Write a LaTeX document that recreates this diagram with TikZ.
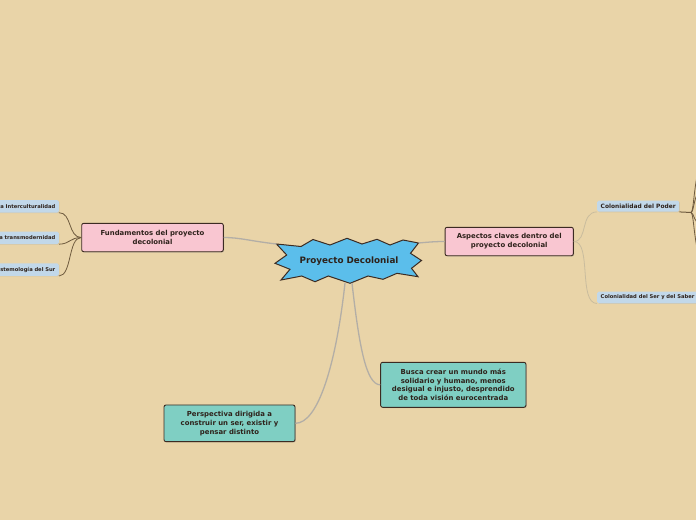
\documentclass[tikz,border=0pt]{standalone}
\usepackage{fontspec}
\setmainfont{DejaVu Sans}
\usetikzlibrary{shadows}
\definecolor{bg}{HTML}{E9D4A8}
\definecolor{pinkf}{HTML}{F9C6D1}
\definecolor{tealf}{HTML}{7FCFC3}
\definecolor{starf}{HTML}{5BBEEB}
\definecolor{lblf}{HTML}{C2D8E9}
\definecolor{edgec}{HTML}{3C2B22}
\definecolor{txt}{HTML}{2E221B}
\definecolor{mainline}{HTML}{B3AEA6}
\definecolor{subline}{HTML}{C9BC9E}
\definecolor{brownline}{HTML}{6F5B3F}
\tikzset{
  topic/.style={draw=edgec, line width=0.9pt, rounded corners=2pt, text=txt,
    font=\bfseries\fontsize{6.9}{8.9}\selectfont, align=center, inner sep=0pt,
    drop shadow={shadow xshift=0.8pt, shadow yshift=-0.8pt, opacity=0.35}},
  lbl/.style={fill=lblf, rounded corners=1.5pt, text=txt, inner ysep=0pt, inner xsep=3.5pt,
    font=\bfseries\fontsize{5.2}{6}\selectfont,
    drop shadow={shadow xshift=0.6pt, shadow yshift=-0.6pt, opacity=0.2}},
  leftlbl/.style={lbl, anchor=east, minimum height=12.4pt, text width=62pt, align=right},
  mainconn/.style={draw=mainline, line width=1.3pt},
  subconn/.style={draw=subline, line width=0.8pt},
  brownconn/.style={draw=brownline, line width=0.8pt},
}
\begin{document}
\begin{tikzpicture}[x=1pt, y=-1pt]
\useasboundingbox (0,0) rectangle (696,520);
\fill[bg] (0,0) rectangle (696,520);
\clip (0,0) rectangle (696,520);

% starburst
\draw[fill=starf, draw=edgec, line width=1pt, line join=miter]
  (276.5,244) -- (301,246.5) -- (313,239.5) -- (330,245) -- (347,238.3) -- (362,244)
  -- (377,239.3) -- (390,245) -- (403,240) -- (418.5,243) -- (410.5,253.3) -- (421.5,260.5)
  -- (411.5,268.3) -- (418,276.7) -- (397,273.3) -- (383,279.3) -- (368,276) -- (350,283.3)
  -- (328.3,276) -- (315,281.7) -- (301.7,276) -- (281,280) -- (290,269.3) -- (275,263.3)
  -- (286.7,255) -- cycle;
\node[text=txt, font=\bfseries\fontsize{8.8}{10}\selectfont] (center) at (349,261) {Proyecto Decolonial};
\coordinate (sL) at (276.5,244);
\coordinate (sR) at (418.5,243);
\coordinate (sB1) at (345,283);
\coordinate (sB2) at (352,283);

% main topics
\node[topic, fill=pinkf, minimum width=141.6pt, minimum height=28.4pt] (fund) at (152.5,237.5)
  {Fundamentos del proyecto\\decolonial};
\node[topic, fill=pinkf, minimum width=128.3pt, minimum height=28.4pt] (asp) at (509.2,241.5)
  {Aspectos claves dentro del\\proyecto decolonial};
\node[topic, fill=tealf, minimum width=145.3pt, minimum height=45pt] (busca) at (453.3,384.8)
  {Busca crear un mundo más\\solidario y humano, menos\\desigual e injusto, desprendido\\de toda visión eurocentrada};
\node[topic, fill=tealf, minimum width=131pt, minimum height=36.7pt] (persp) at (229.5,423.3)
  {Perspectiva dirigida a\\construir un ser, existir y\\pensar distinto};

% left labels (cut by the left edge in the reference)
\node[leftlbl] (l1) at (59,206.3) {a Interculturalidad};
\node[leftlbl] (l2) at (59,237.8) {a transmodernidad};
\node[leftlbl] (l3) at (59,269.6) {stemología del Sur};

% right labels
\node[lbl, anchor=west, minimum height=11pt, font=\bfseries\fontsize{5.9}{7}\selectfont] (poder) at (597,206.2) {Colonialidad del Poder};
\node[lbl, anchor=west, minimum height=11.6pt] (ser) at (597,297.5) {Colonialidad del Ser y del Saber};

% connectors from center
\draw[mainconn] (sL) .. controls (250,241) and (240,237.5) .. (fund.east);
\draw[mainconn] (sR) .. controls (430,242) and (435,241.5) .. (asp.west);
\draw[mainconn] (sB1) .. controls (336,365) and (318,423.3) .. (persp.east);
\draw[mainconn] (sB2) .. controls (359,345) and (366,384.8) .. (busca.west);

% aspectos sub-connectors
\draw[subconn] (asp.east) .. controls (588,241.5) and (580,212) .. (poder.south west);
\draw[subconn] (asp.east) .. controls (592,241.5) and (578,303.3) .. (ser.south west);

% fundamentos sub-connectors
\draw[brownconn] (fund.west) .. controls (68,237.5) and (72,212.5) .. (l1.south east);
\draw[brownconn] (fund.west) .. controls (70,237.5) and (70,244) .. (l2.south east);
\draw[brownconn] (fund.west) .. controls (68,237.5) and (72,275.8) .. (l3.south east);

% poder sub-connectors (leaving the picture)
\coordinate (pj) at (691,212.5);
\coordinate (r1) at (702,160);
\coordinate (r2) at (702,188);
\coordinate (r3) at (702,226);
\coordinate (r4) at (702,262);
\draw[brownconn, line width=1pt] (poder.south east) -- (pj);
\draw[brownconn] (pj) .. controls (694,212.5) and (694,175) .. (r1);
\draw[brownconn] (pj) .. controls (694,212.5) and (694,192) .. (r2);
\draw[brownconn] (pj) .. controls (694,212.5) and (694,224) .. (r3);
\draw[brownconn] (pj) .. controls (694,212.5) and (694,250) .. (r4);
\end{tikzpicture}
\end{document}
